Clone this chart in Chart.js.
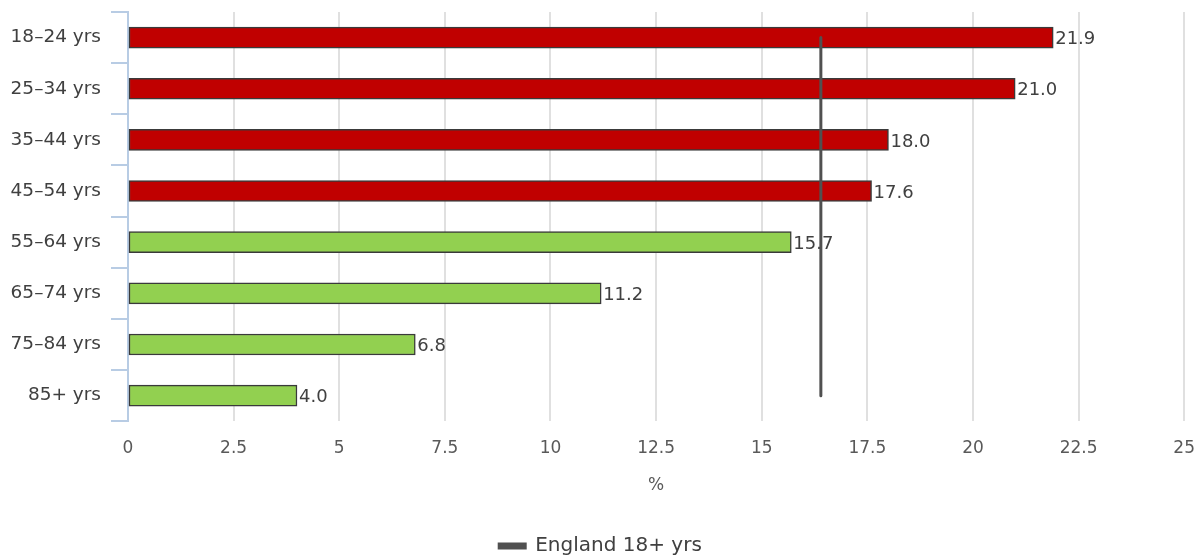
<!DOCTYPE html>
<html>
<head>
<meta charset="utf-8">
<script src="https://cdn.jsdelivr.net/npm/chart.js@4/dist/chart.umd.min.js"></script>
<style>
  html, body { margin: 0; padding: 0; background: #fff; overflow: hidden; }
  #wrap { width: 1201px; height: 566px; position: relative; }
</style>
</head>
<body>
<div id="wrap"><canvas id="chart"></canvas></div>
<script>
const ageGroups = ['18–24 yrs', '25–34 yrs', '35–44 yrs', '45–54 yrs', '55–64 yrs', '65–74 yrs', '75–84 yrs', '85+ yrs'];
const rates = [21.9, 21.0, 18.0, 17.6, 15.7, 11.2, 6.8, 4.0];
const englandRate = [16.4, 16.4, 16.4, 16.4, 16.4, 16.4, 16.4, 16.4];
const aboveEngland = [true, true, true, true, false, false, false, false];

const FONT = "'DejaVu Sans', sans-serif";

// value labels next to each bar end, drawn before the England line goes on top
const barLabels = {
  id: 'barLabels',
  afterDatasetDraw(chart, args) {
    if (args.index !== 0) return;
    const ctx = chart.ctx;
    ctx.save();
    ctx.font = '18px ' + FONT;
    ctx.fillStyle = '#404040';
    ctx.textBaseline = 'middle';
    ctx.textAlign = 'left';
    args.meta.data.forEach((bar, i) => {
      ctx.fillText(rates[i].toFixed(1), bar.x + 2, bar.y + 2);
    });
    ctx.restore();
  }
};

new Chart(document.getElementById('chart'), {
  data: {
    labels: ageGroups,
    datasets: [{
      type: 'bar',
      label: 'Rate',
      data: rates,
      backgroundColor: aboveEngland.map(a => a ? '#c00000' : '#92d050'),
      borderColor: '#3a3a3a',
      borderWidth: 1.5,
      borderSkipped: false,
      barThickness: 21,
      order: 2
    }, {
      type: 'line',
      label: 'England 18+ yrs',
      data: englandRate,
      borderColor: '#505050',
      backgroundColor: '#505050',
      borderWidth: 3,
      borderCapStyle: 'round',
      pointRadius: 0,
      order: 1
    }]
  },
  options: {
    indexAxis: 'y',
    responsive: true,
    maintainAspectRatio: false,
    animation: false,
    layout: { padding: { top: 12, right: 0, left: 0, bottom: 0 } },
    scales: {
      x: {
        min: 0,
        max: 25,
        ticks: { stepSize: 2.5, color: '#595959', font: { family: FONT, size: 17 }, padding: 6 },
        grid: { color: '#e0e0e0', lineWidth: 2, tickLength: 11, tickColor: 'rgba(0,0,0,0)' },
        border: { display: false },
        title: { display: true, text: '%', color: '#595959', font: { family: FONT, size: 17 }, padding: { top: 11, bottom: 30 } }
      },
      y: {
        offset: true,
        ticks: { color: '#404040', font: { family: FONT, size: 18.5, lineHeight: 0.1 }, padding: 10 },
        grid: { offset: true, drawOnChartArea: false, tickLength: 17, color: '#b8cce4', lineWidth: 2 },
        border: { color: '#b8cce4', width: 2 },
        afterFit(scale) { scale.width = 128; }
      }
    },
    plugins: {
      legend: {
        position: 'bottom',
        labels: {
          filter: item => item.datasetIndex === 1,
          color: '#404040',
          font: { family: FONT, size: 20 },
          boxWidth: 26,
          boxHeight: 4,
          padding: 10
        }
      },
      tooltip: { enabled: false }
    }
  },
  plugins: [barLabels]
});
</script>
</body>
</html>
